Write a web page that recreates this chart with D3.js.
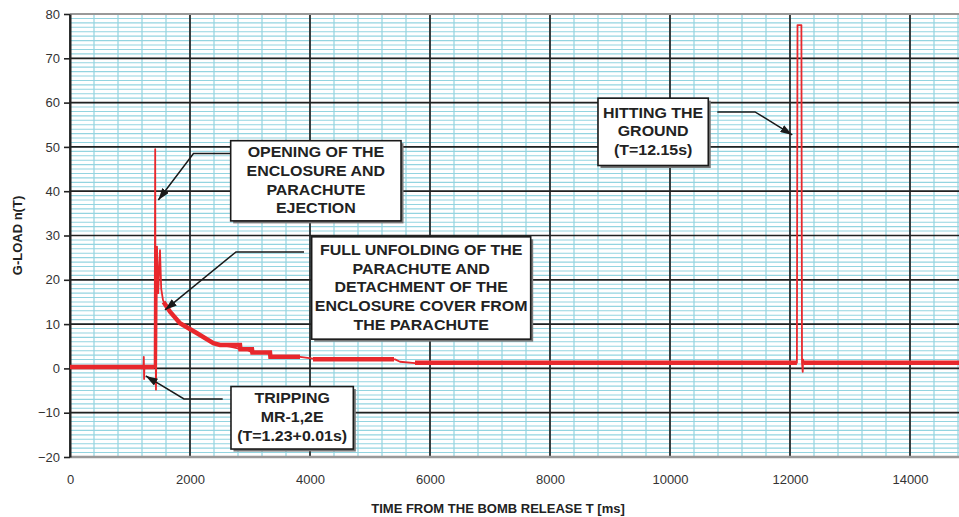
<!DOCTYPE html>
<html>
<head>
<meta charset="utf-8">
<script src="https://cdn.jsdelivr.net/npm/d3@7"></script>
<style>
  body { margin: 0; background: #fff; }
  svg { display: block; font-family: "Liberation Sans", Arial, sans-serif; }
</style>
</head>
<body>
<svg id="chart" width="959" height="517"></svg>
<script>
// thin recorded trace (time in ms, g-load)
const traceT = [0, 1225, 1230, 1235, 1240, 1410, 1420, 1425, 1433, 1440, 1450, 1470, 1500, 1520, 1550, 1600, 1667, 1750, 1833, 2000, 2111, 2250, 2389, 2500, 2667, 2833, 2944, 3033, 3333, 3360, 3833, 4050, 5417, 5500, 5750, 7500, 12115, 12125, 12190, 12200, 12212, 12218, 12225, 15000];
const traceG = [0.3, 0.3, 2.6, -2.4, 0.3, 0.3, 49.5, 10, -4.8, 5, 27.5, 17, 26.7, 18, 15.4, 14, 12.8, 11.5, 10.2, 9, 8, 6.8, 5.7, 5.3, 4.9, 4.4, 4.3, 3.6, 3.4, 2.65, 2.6, 2.2, 2.05, 1.5, 1.2, 1.3, 1.3, 77.5, 77.5, 1.3, -0.8, 2.0, 1.3, 1.3];

// noisy (thick) parts of the signal, null = gap
const bandT = [0, 1410, null, 1560, 1667, 1833, 2111, 2389, 2500, 2833, 2840, 3033, 3040, 3333, 3340, 3833, null, 4050, 5400, null, 5750, 12115, null, 12230, 15000];
const bandG = [0.3, 0.3, null, 15, 12.8, 10.2, 8, 5.7, 5.3, 5.3, 4.3, 4.3, 3.6, 3.6, 2.65, 2.65, null, 2.05, 2.05, null, 1.3, 1.3, null, 1.3, 1.3];

const xTicks = [0, 2000, 4000, 6000, 8000, 10000, 12000, 14000];
const yTicks = [-20, -10, 0, 10, 20, 30, 40, 50, 60, 70, 80];

// annotations: box in data units, elbow of leader and arrow tip
const notes = [
  { lines: ['OPENING OF THE', 'ENCLOSURE AND', 'PARACHUTE', 'EJECTION'],
    box: [2678, 5517, 51.4, 33.3], start: [2678, 48.5], elbow: [2058, 48.5], tip: [1472, 38] },
  { lines: ['FULL UNFOLDING OF THE', 'PARACHUTE AND', 'DETACHMENT OF THE', 'ENCLOSURE COVER FROM', 'THE PARACHUTE'],
    box: [4028, 7678, 29.7, 6.6], start: [3900, 26.3], elbow: [2767, 26.3], tip: [1583, 13.2] },
  { lines: ['HITTING THE', 'GROUND', '(T=12.15s)'],
    box: [8800, 10638, 61, 45.8], start: [10788, 57.9], elbow: [11417, 57.9], tip: [12038, 52.7] },
  { lines: ['TRIPPING', 'MR-1,2E', '(T=1.23+0.01s)'],
    box: [2683, 4722, -4.1, -18.2], start: [2545, -6.9], elbow: [1900, -6.9], tip: [1262, -1.7] }
];

const svg = d3.select('#chart');
const W = 959;
const x = d3.scaleLinear().domain([0, 15000]).range([70, 970]);
const y = d3.scaleLinear().domain([-20, 80]).range([457, 14]);

svg.append('rect').attr('width', W).attr('height', 517).attr('fill', '#fff');

const grid = svg.append('g');
// minor grid
grid.selectAll('.vmin').data(d3.range(0, 15001, 400)).join('line')
  .attr('x1', d => x(d)).attr('x2', d => x(d)).attr('y1', y(80)).attr('y2', y(-20))
  .attr('stroke', '#93d4e0').attr('stroke-width', 1.2);
grid.selectAll('.hmin').data(d3.range(-20, 81, 1)).join('line')
  .attr('x1', x(0)).attr('x2', W).attr('y1', d => y(d)).attr('y2', d => y(d))
  .attr('stroke', '#93d4e0').attr('stroke-width', 1.1);
// major grid
grid.selectAll('.vmaj').data(xTicks).join('line')
  .attr('x1', d => x(d)).attr('x2', d => x(d)).attr('y1', y(80)).attr('y2', y(-20))
  .attr('stroke', '#222').attr('stroke-width', 1.7);
grid.selectAll('.hmaj').data(yTicks).join('line')
  .attr('x1', x(0)).attr('x2', W).attr('y1', d => y(d)).attr('y2', d => y(d))
  .attr('stroke', '#222').attr('stroke-width', 1.7);

// frame
svg.append('line').attr('x1', x(0)).attr('x2', W).attr('y1', y(80)).attr('y2', y(80))
  .attr('stroke', '#999').attr('stroke-width', 2.2);
svg.append('line').attr('x1', x(0)).attr('x2', W).attr('y1', y(-20)).attr('y2', y(-20))
  .attr('stroke', '#999').attr('stroke-width', 2.6);

// axes
const yAxis = svg.append('g').attr('transform', `translate(${x(0)},0)`)
  .call(d3.axisLeft(y).tickValues(yTicks).tickSize(6).tickPadding(4).tickSizeOuter(0));
yAxis.select('.domain').attr('stroke', '#222').attr('stroke-width', 2);
yAxis.selectAll('.tick line').attr('stroke', '#222').attr('stroke-width', 1.6);
yAxis.selectAll('text').attr('font-size', 13).attr('fill', '#333')
  .attr('font-family', '"Liberation Sans", Arial, sans-serif');

const xAxis = svg.append('g').attr('transform', `translate(0,${y(-20)})`)
  .call(d3.axisBottom(x).tickValues(xTicks).tickSize(0).tickPadding(18).tickFormat(d3.format('d')));
xAxis.select('.domain').remove();
xAxis.selectAll('text').attr('font-size', 13).attr('fill', '#333')
  .attr('font-family', '"Liberation Sans", Arial, sans-serif');

svg.append('text').attr('x', 498).attr('y', 513).attr('text-anchor', 'middle')
  .attr('font-size', 13).attr('font-weight', 'bold').attr('fill', '#222')
  .text('TIME FROM THE BOMB RELEASE T [ms]');
svg.append('text').attr('transform', `translate(22,${(y(80) + y(-20)) / 2}) rotate(-90)`)
  .attr('text-anchor', 'middle').attr('font-size', 13).attr('font-weight', 'bold').attr('fill', '#222')
  .text('G-LOAD n(T)');

// signal
const clip = svg.append('clipPath').attr('id', 'plot-clip')
  .append('rect').attr('x', x(0)).attr('y', 0).attr('width', W - x(0)).attr('height', y(-20));
const plot = svg.append('g').attr('clip-path', 'url(#plot-clip)');

const band = bandT.map((t, i) => [t, bandG[i]]);
plot.append('path')
  .attr('d', d3.line().defined(d => d[0] !== null).x(d => x(d[0])).y(d => y(d[1]))(band))
  .attr('fill', 'none').attr('stroke', '#e8282d').attr('stroke-width', 4.5);

const trace = traceT.map((t, i) => [t, traceG[i]]);
plot.append('path')
  .attr('d', d3.line().x(d => x(d[0])).y(d => y(d[1]))(trace))
  .attr('fill', 'none').attr('stroke', '#e8282d').attr('stroke-width', 1.8)
  .attr('stroke-linejoin', 'round');

// arrow marker
svg.append('defs').append('marker')
  .attr('id', 'arrow').attr('viewBox', '0 0 12 8').attr('refX', 12).attr('refY', 4)
  .attr('markerWidth', 12).attr('markerHeight', 8).attr('markerUnits', 'userSpaceOnUse')
  .attr('orient', 'auto')
  .append('path').attr('d', 'M0,0L12,4L0,8Z').attr('fill', '#1a1a1a');

// annotations
notes.forEach(n => {
  const g = svg.append('g');
  g.append('path')
    .attr('d', d3.line()([n.start, n.elbow, n.tip].map(p => [x(p[0]), y(p[1])])))
    .attr('fill', 'none').attr('stroke', '#1a1a1a').attr('stroke-width', 1.5)
    .attr('marker-end', 'url(#arrow)');

  const bx = x(n.box[0]), bw = x(n.box[1]) - x(n.box[0]);
  const by = y(n.box[2]), bh = y(n.box[3]) - y(n.box[2]);
  g.append('rect').attr('x', bx + 2.5).attr('y', by + 2.5).attr('width', bw).attr('height', bh)
    .attr('fill', '#777');
  g.append('rect').attr('x', bx).attr('y', by).attr('width', bw).attr('height', bh)
    .attr('fill', '#fff').attr('stroke', '#1a1a1a').attr('stroke-width', 1.6);

  const lh = 18.8;
  const cy = by + bh / 2;
  n.lines.forEach((s, i) => {
    const ty = cy + 4.5 + (i - (n.lines.length - 1) / 2) * lh;
    g.append('text')
      .attr('transform', `translate(${bx + bw / 2},${ty}) scale(1.14,1)`)
      .attr('text-anchor', 'middle').attr('font-size', 14).attr('font-weight', 'bold')
      .attr('fill', '#222').text(s);
  });
});
</script>
</body>
</html>
